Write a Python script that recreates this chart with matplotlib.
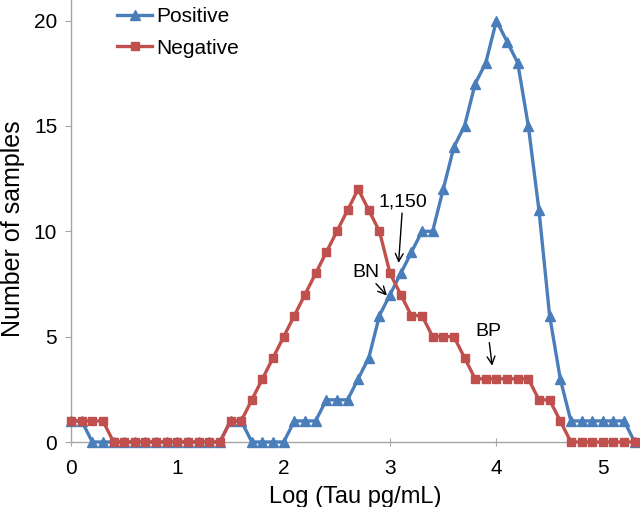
import matplotlib
matplotlib.use("Agg")
import matplotlib.pyplot as plt
import numpy as np

plt.rcParams['font.family'] = ['Liberation Sans', 'DejaVu Sans']

# log(Tau) bins, 0.0 .. 5.3 in steps of 0.1
log_tau = np.round(np.arange(0, 5.31, 0.1), 1)

positive = [1, 1, 0, 0, 0, 0, 0, 0, 0, 0, 0, 0, 0, 0, 0,
            1, 1, 0, 0, 0, 0, 1, 1, 1, 2, 2, 2, 3, 4, 6,
            7, 8, 9, 10, 10, 12, 14, 15, 17, 18, 20, 19, 18, 15, 11,
            6, 3, 1, 1, 1, 1, 1, 1, 0]
negative = [1, 1, 1, 1, 0, 0, 0, 0, 0, 0, 0, 0, 0, 0, 0,
            1, 1, 2, 3, 4, 5, 6, 7, 8, 9, 10, 11, 12, 11, 10,
            8, 7, 6, 6, 5, 5, 5, 4, 3, 3, 3, 3, 3, 3, 2,
            2, 1, 0, 0, 0, 0, 0, 0, 0]

blue = '#4a7ebb'
red = '#c0504d'

fig = plt.figure(figsize=(6.4, 5.07), dpi=100)
# y=0 sits at pixel row ~442, x=0 at column ~71
ax = fig.add_axes([0.111, 65 / 507, 0.889, 442 / 507])

ax.plot(log_tau, positive, color=blue, lw=2.4, marker='^', ms=7.5,
        label='Positive', clip_on=False, zorder=3)
ax.plot(log_tau, negative, color=red, lw=2.4, marker='s', ms=6,
        label='Negative', clip_on=False, zorder=4)

ax.set_xlim(0, 5.35)
ax.set_ylim(0, 442 / 21.07)
ax.set_xticks([0, 1, 2, 3, 4, 5])
ax.set_yticks([0, 5, 10, 15, 20])

for s in ['top', 'right']:
    ax.spines[s].set_visible(False)
for s in ['left', 'bottom']:
    ax.spines[s].set_color('#a6a6a6')
    ax.spines[s].set_linewidth(1.0)
ax.tick_params(axis='both', colors='#a6a6a6', labelcolor='black',
               labelsize=15, length=4)
ax.tick_params(axis='x', direction='inout', length=6, pad=9)
ax.tick_params(axis='y', direction='out', pad=6)

ax.set_xlabel('Log (Tau pg/mL)', fontsize=17, labelpad=6)
ax.set_ylabel('Number of samples', fontsize=18)
ax.yaxis.set_label_coords(-0.081, 0.482)

leg = ax.legend(loc='upper left', bbox_to_anchor=(117 / 640, 1 - 7 / 507),
                bbox_transform=fig.transFigure, frameon=False, fontsize=15,
                handlelength=1.7, handletextpad=0.2, labelspacing=0.6,
                borderpad=0, borderaxespad=0)

arrow = dict(arrowstyle='->', color='black', lw=1.0, shrinkA=0, shrinkB=0)
ax.annotate('1,150', xy=(3.08, 8.5), xytext=(3.12, 11.4), fontsize=14,
            ha='center', va='center', arrowprops=arrow)
ax.annotate('BN', xy=(2.97, 6.95), xytext=(2.77, 8.05), fontsize=14,
            ha='center', va='center', arrowprops=arrow)
ax.annotate('BP', xy=(3.96, 3.62), xytext=(3.92, 5.25), fontsize=14,
            ha='center', va='center', arrowprops=arrow)

fig.savefig('out.png', dpi=100)
